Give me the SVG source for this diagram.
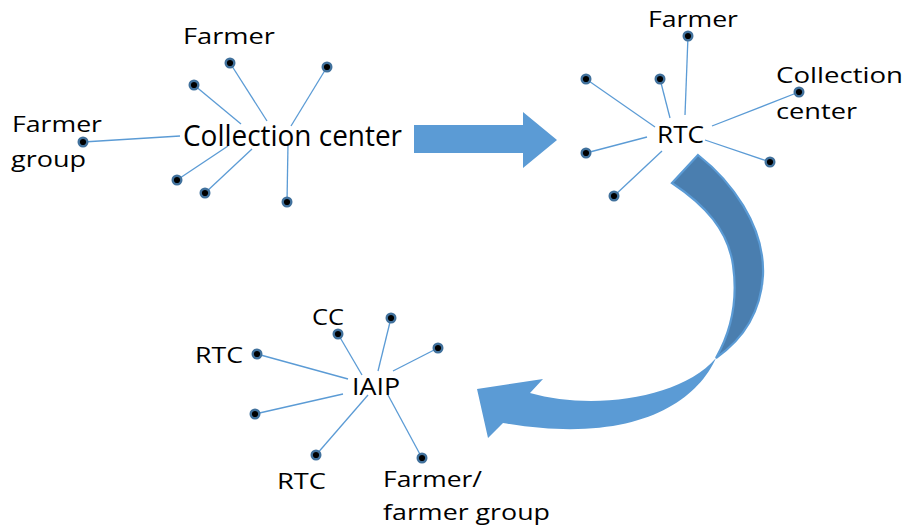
<svg xmlns="http://www.w3.org/2000/svg" width="910" height="528" viewBox="0 0 910 528">
<style>
.t{font-family:"Open Sans","Liberation Sans",sans-serif;fill:#000}
.c{font-size:28.5px}
.s{font-size:23px}
.l{font-size:22.5px}
.ln{stroke:#5B9BD5;stroke-width:1.3;fill:none}
.dot{fill:#000;stroke:#41719C;stroke-width:2.4}
</style>
<defs>
<circle id="d" r="4.3" class="dot"/>
</defs>
<rect width="910" height="528" fill="#fff"/>

<g id="connectors">
<line class="ln" x1="230" y1="63" x2="267" y2="121"/>
<line class="ln" x1="327" y1="67" x2="291" y2="126"/>
<line class="ln" x1="194" y1="85" x2="241" y2="124"/>
<line class="ln" x1="83" y1="142" x2="180" y2="136"/>
<line class="ln" x1="177" y1="180" x2="228" y2="146"/>
<line class="ln" x1="205" y1="193" x2="252" y2="149"/>
<line class="ln" x1="287" y1="202" x2="288" y2="144"/>

<line class="ln" x1="688" y1="36" x2="685" y2="115"/>
<line class="ln" x1="660" y1="79" x2="670" y2="118"/>
<line class="ln" x1="586" y1="79" x2="655" y2="127"/>
<line class="ln" x1="799" y1="92" x2="712" y2="126"/>
<line class="ln" x1="586" y1="153" x2="647" y2="137"/>
<line class="ln" x1="770" y1="162" x2="705" y2="140"/>
<line class="ln" x1="614" y1="196" x2="662" y2="151"/>

<line class="ln" x1="338" y1="334" x2="362" y2="375"/>
<line class="ln" x1="391" y1="318" x2="378" y2="371"/>
<line class="ln" x1="438" y1="348" x2="393" y2="371"/>
<line class="ln" x1="257" y1="354" x2="348" y2="379"/>
<line class="ln" x1="255" y1="414" x2="343" y2="394"/>
<line class="ln" x1="316" y1="455" x2="368" y2="395"/>
<line class="ln" x1="422" y1="458" x2="388" y2="395"/>
</g>

<g id="node-collection-center">
<text class="t c" x="183" y="146" textLength="219" lengthAdjust="spacingAndGlyphs">Collection center</text>
</g>
<g id="cc-dots">
<use href="#d" x="230" y="63"/>
<use href="#d" x="327" y="67"/>
<use href="#d" x="194" y="85"/>
<use href="#d" x="83" y="142"/>
<use href="#d" x="177" y="180"/>
<use href="#d" x="205" y="193"/>
<use href="#d" x="287" y="202"/>
</g>
<g id="label-cc-farmer">
<text class="t l" x="183" y="44" textLength="92" lengthAdjust="spacingAndGlyphs">Farmer</text>
</g>
<g id="label-cc-farmer-group">
<text class="t l" x="12" y="132" textLength="90" lengthAdjust="spacingAndGlyphs">Farmer</text>
<text class="t l" x="11" y="167" textLength="75" lengthAdjust="spacingAndGlyphs">group</text>
</g>

<g id="arrow-right">
<polygon points="414,125 523,125 523,112 557,140 523,168 523,153 414,153" fill="#5B9BD5"/>
</g>

<g id="node-rtc">
<text class="t s" x="657" y="143" textLength="47" lengthAdjust="spacingAndGlyphs">RTC</text>
</g>
<g id="rtc-dots">
<use href="#d" x="688" y="36"/>
<use href="#d" x="660" y="79"/>
<use href="#d" x="586" y="79"/>
<use href="#d" x="799" y="92"/>
<use href="#d" x="586" y="153"/>
<use href="#d" x="770" y="162"/>
<use href="#d" x="614" y="196"/>
</g>
<g id="label-rtc-farmer">
<text class="t l" x="648" y="27" textLength="90" lengthAdjust="spacingAndGlyphs">Farmer</text>
</g>
<g id="label-rtc-collection-center">
<text class="t l" x="776" y="83" textLength="127" lengthAdjust="spacingAndGlyphs">Collection</text>
<text class="t l" x="776" y="119" textLength="81" lengthAdjust="spacingAndGlyphs">center</text>
</g>

<g id="arrow-curved">
<path d="M716,358 C695,405 630,445 503,423 L488,438 L477,389 L543,379 L530,393 C590,410 680,400 716,358 Z" fill="#5B9BD5"/>
<path d="M672,183 L698,155 C730,180 765,225 763,275 C761,310 745,338 716,358 C732,330 738,300 733,265 C728,230 705,205 672,183 Z" fill="#4A7EAF" stroke="#5B9BD5" stroke-width="2.2" stroke-linejoin="miter"/>
</g>

<g id="node-iaip">
<text class="t s" x="352" y="395" textLength="48" lengthAdjust="spacingAndGlyphs">IAIP</text>
</g>
<g id="iaip-dots">
<use href="#d" x="338" y="334"/>
<use href="#d" x="391" y="318"/>
<use href="#d" x="438" y="348"/>
<use href="#d" x="257" y="354"/>
<use href="#d" x="255" y="414"/>
<use href="#d" x="316" y="455"/>
<use href="#d" x="422" y="458"/>
</g>
<g id="label-iaip-cc">
<text class="t l" x="312" y="325" textLength="32" lengthAdjust="spacingAndGlyphs">CC</text>
</g>
<g id="label-iaip-rtc-left">
<text class="t l" x="195" y="363" textLength="48" lengthAdjust="spacingAndGlyphs">RTC</text>
</g>
<g id="label-iaip-rtc-bottom">
<text class="t l" x="277" y="489" textLength="49" lengthAdjust="spacingAndGlyphs">RTC</text>
</g>
<g id="label-iaip-farmer">
<text class="t l" x="383" y="487" textLength="99" lengthAdjust="spacingAndGlyphs">Farmer/</text>
<text class="t l" x="383" y="520" textLength="167" lengthAdjust="spacingAndGlyphs">farmer group</text>
</g>
</svg>
